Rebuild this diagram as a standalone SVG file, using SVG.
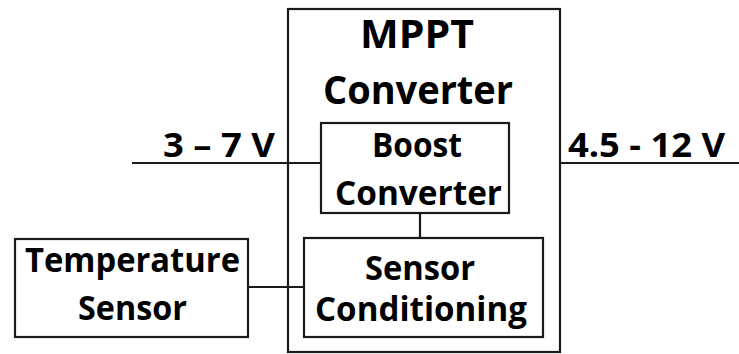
<svg xmlns="http://www.w3.org/2000/svg" width="739" height="354" viewBox="0 0 739 354">
<style>
.box{fill:#fff;stroke:#1a1a1a;stroke-width:2.2}
.ln{stroke:#1a1a1a;stroke-width:2.2;fill:none}
text{font-family:"Open Sans","Liberation Sans",Arial,sans-serif;font-weight:bold;fill:#000;text-anchor:middle}
.big{font-size:40px}
.sm{font-size:34px}
</style>
<rect width="739" height="354" fill="#fff"/>
<g id="mppt">
<rect class="box" x="288" y="9" width="272" height="343"/>
<text class="big" x="417" y="48" textLength="114" lengthAdjust="spacingAndGlyphs">MPPT</text>
<text class="big" x="418" y="104" textLength="190" lengthAdjust="spacingAndGlyphs">Converter</text>
</g>
<g id="connectors">
<line class="ln" x1="132" y1="163" x2="321" y2="163"/>
<line class="ln" x1="560" y1="163" x2="739" y2="163"/>
<line class="ln" x1="248" y1="287" x2="304" y2="287"/>
<line class="ln" x1="420" y1="213" x2="420" y2="238"/>
</g>
<g id="boost">
<rect class="box" x="321" y="123" width="188" height="90"/>
<text class="sm" x="417" y="157" textLength="90" lengthAdjust="spacingAndGlyphs">Boost</text>
<text class="sm" x="418.5" y="205" textLength="167" lengthAdjust="spacingAndGlyphs">Converter</text>
</g>
<g id="sensorcond">
<rect class="box" x="304" y="238" width="239" height="99"/>
<text class="sm" x="420" y="280" textLength="110" lengthAdjust="spacingAndGlyphs">Sensor</text>
<text class="sm" x="421" y="321" textLength="212" lengthAdjust="spacingAndGlyphs">Conditioning</text>
</g>
<g id="tempsensor">
<rect class="box" x="15" y="239" width="233" height="98"/>
<text class="sm" x="132.5" y="272" textLength="215" lengthAdjust="spacingAndGlyphs">Temperature</text>
<text class="sm" x="132.5" y="320" textLength="109" lengthAdjust="spacingAndGlyphs">Sensor</text>
</g>
<g id="labels">
<text class="sm" x="219" y="157" textLength="112" lengthAdjust="spacingAndGlyphs">3 – 7 V</text>
<text class="sm" x="646.5" y="157" textLength="157" lengthAdjust="spacingAndGlyphs">4.5 - 12 V</text>
</g>
</svg>
